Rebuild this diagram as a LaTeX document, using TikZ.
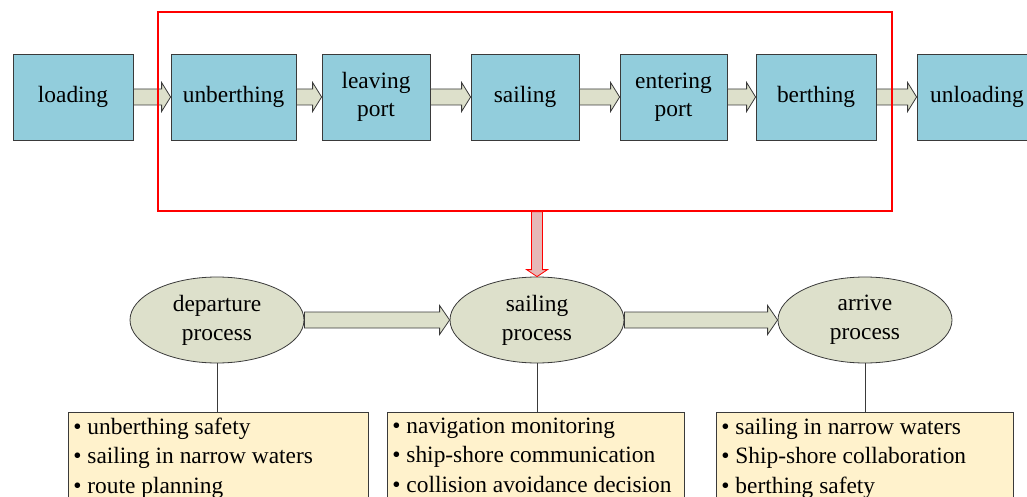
\documentclass[tikz,border=0pt]{standalone}
\usepackage{fontspec}
\setmainfont{Liberation Serif}
\usetikzlibrary{calc,shapes.geometric}

\definecolor{stageblue}{HTML}{92CDDC}
\definecolor{sage}{HTML}{DDE0CB}
\definecolor{cream}{HTML}{FFF2CC}
\definecolor{edge}{HTML}{3A3A3A}
\definecolor{pinkfill}{HTML}{E6B8B7}

\tikzset{
  stagebox/.style={draw=edge, line width=0.8pt, fill=stageblue, inner sep=0pt,
    minimum height=86pt, align=center, font=\fontsize{23.4}{28.5}\selectfont},
  procnode/.style={ellipse, draw=edge, line width=0.8pt, fill=sage, inner sep=0pt,
    minimum width=174pt, minimum height=86pt, align=center,
    font=\fontsize{23.4}{29}\selectfont},
  notebox/.style={draw=edge, line width=0.8pt, fill=cream, anchor=north west,
    inner xsep=5pt, inner ysep=5.5pt, font=\fontsize{23.4}{29.5}\selectfont},
  blockarrow/.style={draw=edge, line width=0.8pt, fill=sage},
  framebox/.style={draw=red, line width=1.6pt, inner sep=0pt},
  tieline/.style={draw=edge, line width=0.8pt},
}

% horizontal block arrow: style, start point, tip point, shaft half height, head half height, head length
\newcommand{\harrow}[6]{%
  \path[#1] let \p1=(#2), \p2=(#3) in
    (\x1,\y1-#4) -- (\x2-#6,\y1-#4) -- (\x2-#6,\y1-#5) -- (\x2,\y1)
    -- (\x2-#6,\y1+#5) -- (\x2-#6,\y1+#4) -- (\x1,\y1+#4) -- cycle;}

\newcommand{\notes}[3]{%
  \begin{minipage}[t][90pt][t]{#1}\raggedright
  •~#2\par #3
  \end{minipage}}

\begin{document}
\begin{tikzpicture}[x=1pt,y=-1pt]
\useasboundingbox (0,0) rectangle (1027,497);

% ship voyage stages
\node[stagebox, minimum width=120pt] (load)   at (73,97)    {loading};
\node[stagebox, minimum width=125pt] (unb)    at (233.5,97) {unberthing};
\node[stagebox, minimum width=108pt] (leave)  at (376,97)   {leaving\\port};
\node[stagebox, minimum width=108pt] (sail)   at (525,97)   {sailing};
\node[stagebox, minimum width=107pt] (enter)  at (673.5,97) {entering\\port};
\node[stagebox, minimum width=120pt] (berth)  at (816,97)   {berthing};
\node[stagebox, minimum width=120pt] (unload) at (977,97)   {unloading};

\harrow{blockarrow}{load.east}{unb.west}{8pt}{14.5pt}{9pt}
\harrow{blockarrow}{unb.east}{leave.west}{8pt}{14.5pt}{9pt}
\harrow{blockarrow}{leave.east}{sail.west}{8pt}{14.5pt}{9pt}
\harrow{blockarrow}{sail.east}{enter.west}{8pt}{14.5pt}{9pt}
\harrow{blockarrow}{enter.east}{berth.west}{8pt}{14.5pt}{9pt}
\harrow{blockarrow}{berth.east}{unload.west}{8pt}{14.5pt}{9pt}

% navigation stages frame
\node[framebox, minimum width=734pt, minimum height=199pt] (frame) at (525,111.5) {};

% processes
\node[procnode] (dep) at (217,320) {departure\\process};
\node[procnode] (sp)  at (537,320) {sailing\\process};
\node[procnode] (arr) at (865,320) {arrive\\process};

\harrow{blockarrow}{dep.east}{sp.west}{8pt}{14.5pt}{10pt}
\harrow{blockarrow}{sp.east}{arr.west}{8pt}{14.5pt}{10pt}

% frame to sailing process
\path[draw=red, line width=0.8pt, fill=pinkfill]
  let \p1=(frame.south -| sp.north), \p2=(sp.north) in
  (\x1-5.5,\y1) -- (\x1+5.5,\y1) -- (\x1+5.5,\y2+7) -- (\x1+10.5,\y2+7)
  -- (\x2,\y2) -- (\x1-10.5,\y2+7) -- (\x1-5.5,\y2+7) -- cycle;

% key points of each process
\node[notebox] (depn) at (68,412)
  {\notes{290pt}{unberthing safety\par •~sailing in narrow waters}{•~route planning}};
\node[notebox] (spn) at (387,412)
  {\notes{287pt}{navigation monitoring\par •~ship-shore communication}{•~collision avoidance decision}};
\node[notebox] (arrn) at (716,412)
  {\notes{287pt}{sailing in narrow waters\par •~Ship-shore collaboration}{•~berthing safety}};

\draw[tieline] (dep.south) -- (dep.south |- depn.north);
\draw[tieline] (sp.south) -- (sp.south |- spn.north);
\draw[tieline] (arr.south) -- (arr.south |- arrn.north);
\end{tikzpicture}
\end{document}
